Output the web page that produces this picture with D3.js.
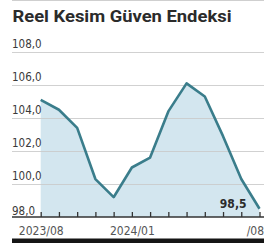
<!DOCTYPE html>
<html>
<head>
<meta charset="utf-8">
<script src="https://cdn.jsdelivr.net/npm/d3@7"></script>
<style>
    body { margin: 0; background: #fff; }
    svg { display: block; }
    .grid line { stroke: #c9c9c9; stroke-width: 1; }
    .grid .domain { display: none; }
    .grid text { font-family: "Liberation Sans Narrow", "DejaVu Sans Condensed", sans-serif; font-size: 11.5px; fill: #3a3a3a; }
    .x-axis text { font-family: "Liberation Sans Narrow", "DejaVu Sans Condensed", sans-serif; font-size: 12px; fill: #555; }
    .x-axis line { stroke: #333; stroke-width: 1.3; }
    .x-axis .domain { display: none; }
</style>
</head>
<body>
<div id="chart"></div>
<script>
let title = "Reel Kesim Güven Endeksi";
let months = ["2023/08", "2023/09", "2023/10", "2023/11", "2023/12", "2024/01", "2024/02",
    "2024/03", "2024/04", "2024/05", "2024/06", "2024/07", "2024/08"];
let values = [105.1, 104.5, 103.4, 100.3, 99.2, 101.0, 101.6, 104.4, 106.1, 105.3, 102.9, 100.3, 98.5];
let yTicks = [98, 100, 102, 104, 106, 108];
// only these months get a label under the axis
let xLabels = {"2023/08": "2023/08", "2024/01": "2024/01", "2024/08": "/08"};
let lastLabel = "98,5";

let width = 264, height = 245;
let left = 12, right = 264;
let fmt = function(d){ return d3.format(".1f")(d).replace(".", ","); };

let svg = d3.select("#chart").append("svg")
    .attr("width", width)
    .attr("height", height);

let x = d3.scalePoint()
    .domain(months)
    .range([40.7, 259.5]);

let y = d3.scaleLinear()
    .domain([98, 108])
    .range([217, 52]);

// top rule
svg.append("line")
    .attr("x1", left).attr("x2", right)
    .attr("y1", 0.5).attr("y2", 0.5)
    .attr("stroke", "#cfcfcf");

svg.append("text")
    .attr("x", 12.5)
    .attr("y", 21.7)
    .attr("textLength", 219)
    .attr("lengthAdjust", "spacingAndGlyphs")
    .style("font-family", "Roboto, 'DejaVu Sans', sans-serif")
    .style("font-weight", 700)
    .style("font-size", "16px")
    .style("fill", "#2b2b2b")
    .text(title);

// area under the line
let area = d3.area()
    .x(function(d, i){ return x(months[i]); })
    .y0(y(98))
    .y1(function(d){ return y(d); });

svg.append("path")
    .datum(values)
    .attr("d", area)
    .attr("fill", "#d3e6ef");

// grid lines + y labels
let grid = svg.append("g")
    .attr("class", "grid")
    .attr("transform", "translate(" + left + ",0)")
    .call(d3.axisRight(y)
        .tickValues(yTicks.filter(function(d){ return d > 98; }))
        .tickSize(right - left)
        .tickFormat(fmt));

grid.selectAll("line").attr("stroke-opacity", 0.85);
grid.selectAll("text")
    .attr("x", 0)
    .attr("dy", -4.5)
    .attr("text-anchor", "start");

// 98,0 label sits on the axis line
svg.append("text")
    .attr("x", left)
    .attr("y", y(98) - 2)
    .style("font-family", "'Liberation Sans Narrow', 'DejaVu Sans Condensed', sans-serif")
    .style("font-size", "11.5px")
    .style("fill", "#3a3a3a")
    .text(fmt(98));

let line = d3.line()
    .x(function(d, i){ return x(months[i]); })
    .y(function(d){ return y(d); });

svg.append("path")
    .datum(values)
    .attr("d", line)
    .attr("fill", "none")
    .attr("stroke", "#3a7d8b")
    .attr("stroke-width", 2.6)
    .attr("stroke-linejoin", "round");

// x axis: ticks point up
let xAxis = svg.append("g")
    .attr("class", "x-axis")
    .attr("transform", "translate(0," + y(98) + ")")
    .call(d3.axisBottom(x)
        .tickSize(-5)
        .tickPadding(9)
        .tickFormat(function(d){ return xLabels[d] || ""; }));

xAxis.selectAll("text").attr("dy", "0.71em");

// the last label is pinned to the right edge
xAxis.selectAll("text")
    .filter(function(d){ return d === months[months.length - 1]; })
    .attr("text-anchor", "end")
    .attr("x", 263.5 - x(months[months.length - 1]));

svg.append("line")
    .attr("x1", left).attr("x2", right)
    .attr("y1", y(98)).attr("y2", y(98))
    .attr("stroke", "#333")
    .attr("stroke-width", 1.5);

// last value callout
let last = values.length - 1;
svg.append("text")
    .attr("x", x(months[last]) - 13)
    .attr("y", y(values[last]) - 0.5)
    .attr("text-anchor", "end")
    .style("font-family", "'Liberation Sans Narrow', 'DejaVu Sans Condensed', sans-serif")
    .style("font-weight", 700)
    .style("font-size", "12px")
    .style("fill", "#2b2b2b")
    .text(lastLabel);

// bottom bar
svg.append("rect")
    .attr("x", left)
    .attr("y", 238.5)
    .attr("width", right - left)
    .attr("height", 4.5)
    .attr("fill", "#151515");
</script>
</body>
</html>
